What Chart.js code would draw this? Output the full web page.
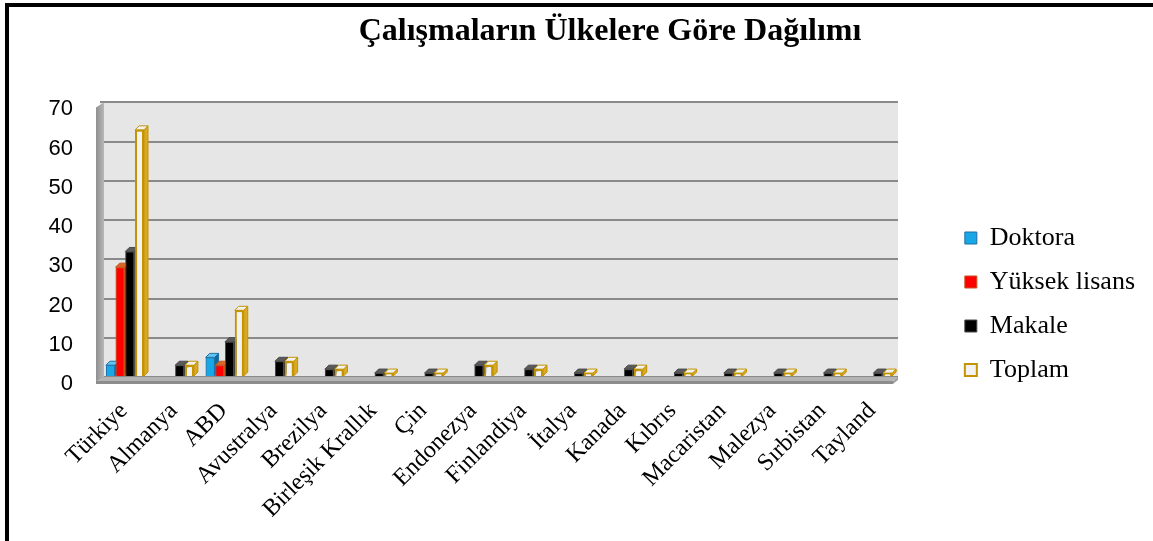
<!DOCTYPE html>
<html>
<head>
<meta charset="utf-8">
<script src="https://cdn.jsdelivr.net/npm/chart.js@4.4.1/dist/chart.umd.min.js"></script>
<style>
html,body{margin:0;padding:0;background:#fff;}
canvas{display:block;}
</style>
</head>
<body>
<canvas id="c" width="1153" height="541"></canvas>
<script>
const chartTitle = 'Çalışmaların Ülkelere Göre Dağılımı';
const categories = ['Türkiye','Almanya','ABD','Avustralya','Brezilya','Birleşik Krallık','Çin','Endonezya','Finlandiya','İtalya','Kanada','Kıbrıs','Macaristan','Malezya','Sırbistan','Tayland'];
const seriesNames = ['Doktora','Yüksek lisans','Makale','Toplam'];
const doktora =      [3, 0, 5, 0, 0, 0, 0, 0, 0, 0, 0, 0, 0, 0, 0, 0];
const yuksekLisans = [28, 0, 3, 0, 0, 0, 0, 0, 0, 0, 0, 0, 0, 0, 0, 0];
const makale =       [32, 3, 9, 4, 2, 1, 1, 3, 2, 1, 2, 1, 1, 1, 1, 1];
const toplam =       [63, 3, 17, 4, 2, 1, 1, 3, 2, 1, 2, 1, 1, 1, 1, 1];
const yTickValues =  [0, 10, 20, 30, 40, 50, 60, 70];

const styles = [
  {bg:'#17a6e6', border:'#1f6fa6', top:'#62c4f0', side:'#0d6a9c'},
  {bg:'#ff0000', border:'#c4561e', top:'#d9662a', side:'#a82400'},
  {bg:'#000000', border:'#4a4a4a', top:'#5a5a5a', side:'#262626'},
  {bg:'#f2f2f2', border:'#c39400', top:'#f2f2f2', side:'#d9a826'}
];
const seriesData = [doktora, yuksekLisans, makale, toplam];
const DX = 4, DY = 4;
const PAD_L = 40, PAD_R = 8, PLOT_L = 100, PLOT_R = 898, PLOT_B = 377, TITLE_CX = 610;

const scene3d = {
  id: 'scene3d',
  afterLayout(chart) {
    const t = chart.titleBlock;
    if (t) {
      const shift = TITLE_CX - (t.left + t.right) / 2;
      t.left += shift; t.right += shift;
    }
  },
  beforeDraw(chart) {
    const {ctx, chartArea: a} = chart;
    ctx.save();
    ctx.fillStyle = '#ffffff';
    ctx.fillRect(0, 0, chart.width, chart.height);
    ctx.fillStyle = '#e6e6e6';
    ctx.fillRect(a.left, a.top, a.right - a.left, a.bottom - a.top);
    ctx.fillStyle = '#000';
    ctx.fillRect(5, 3, chart.width - 5, 4);
    ctx.fillRect(5, 3, 4, chart.height - 3);
    ctx.restore();
  },
  beforeDatasetsDraw(chart) {
    const {ctx, chartArea: a} = chart;
    ctx.save();
    const g = ctx.createLinearGradient(a.left - 4, 0, a.left + 5, 0);
    g.addColorStop(0, '#8f8f8f');
    g.addColorStop(1, '#bdbdbd');
    ctx.fillStyle = g;
    ctx.beginPath();
    ctx.moveTo(a.left - 4, a.top + 5);
    ctx.lineTo(a.left + 4, a.top);
    ctx.lineTo(a.left + 4, a.bottom);
    ctx.lineTo(a.left - 4, a.bottom + 5);
    ctx.closePath();
    ctx.fill();
    ctx.fillStyle = '#b4b4b4';
    ctx.beginPath();
    ctx.moveTo(a.left + 4, a.bottom);
    ctx.lineTo(a.right, a.bottom);
    ctx.lineTo(a.right - 5, a.bottom + 4);
    ctx.lineTo(a.left - 4, a.bottom + 4);
    ctx.closePath();
    ctx.fill();
    ctx.fillStyle = '#8c8c8c';
    ctx.beginPath();
    ctx.moveTo(a.left - 4, a.bottom + 4);
    ctx.lineTo(a.right - 5, a.bottom + 4);
    ctx.lineTo(a.right - 5, a.bottom + 7);
    ctx.lineTo(a.left - 4, a.bottom + 7);
    ctx.closePath();
    ctx.fill();
    ctx.fillStyle = '#a0a0a0';
    ctx.beginPath();
    ctx.moveTo(a.right - 5, a.bottom + 4);
    ctx.lineTo(a.right, a.bottom);
    ctx.lineTo(a.right, a.bottom + 3);
    ctx.lineTo(a.right - 5, a.bottom + 7);
    ctx.closePath();
    ctx.fill();
    ctx.restore();
  },
  afterDatasetsDraw(chart) {
    const ctx = chart.ctx;
    for (let d = 0; d < chart.data.datasets.length; d++) {
      const meta = chart.getDatasetMeta(d);
      const st = styles[d];
      meta.data.forEach((el, i) => {
        if (!chart.data.datasets[d].data[i]) return;
        const {x, y, base, width} = el.getProps(['x', 'y', 'base', 'width'], true);
        const l = x - width / 2, r = x + width / 2;
        ctx.save();
        ctx.lineWidth = 1;
        ctx.strokeStyle = st.border;
        ctx.fillStyle = st.side;
        ctx.beginPath();
        ctx.moveTo(r, y);
        ctx.lineTo(r + DX, y - DY);
        ctx.lineTo(r + DX, base - DY);
        ctx.lineTo(r, base);
        ctx.closePath();
        ctx.fill();
        ctx.stroke();
        ctx.fillStyle = st.top;
        ctx.beginPath();
        ctx.moveTo(l, y);
        ctx.lineTo(l + DX, y - DY);
        ctx.lineTo(r + DX, y - DY);
        ctx.lineTo(r, y);
        ctx.closePath();
        ctx.fill();
        ctx.stroke();
        ctx.restore();
        el.draw(ctx);
      });
    }
  }
};

const datasets = seriesNames.map((name, k) => ({
  label: name,
  data: seriesData[k],
  backgroundColor: styles[k].bg,
  borderColor: styles[k].border,
  borderWidth: k === 3 ? 2 : 1,
  categoryPercentage: 0.78,
  barPercentage: 0.92
}));

new Chart(document.getElementById('c'), {
  type: 'bar',
  data: { labels: categories, datasets: datasets },
  plugins: [scene3d],
  options: {
    responsive: false,
    animation: false,
    layout: { padding: { left: PAD_L, right: PAD_R, top: 0, bottom: 0 } },
    plugins: {
      tooltip: { enabled: false },
      title: {
        display: true,
        text: chartTitle,
        color: '#000',
        font: { family: 'Liberation Serif', size: 32, weight: 'bold' },
        padding: { top: 13, bottom: 51 }
      },
      legend: {
        position: 'right',
        align: 'center',
        maxWidth: 320,
        title: {
          display: true,
          text: ' ',
          font: { family: 'Liberation Serif', size: 10 },
          padding: { top: 0, bottom: 55 }
        },
        labels: {
          color: '#000',
          font: { family: 'Liberation Serif', size: 26 },
          boxWidth: 12,
          boxHeight: 12,
          padding: 18
        }
      }
    },
    scales: {
      x: {
        grid: { display: false, drawTicks: false },
        border: { display: false },
        ticks: {
          color: '#000',
          font: { family: 'Liberation Serif', size: 24 },
          minRotation: 45,
          maxRotation: 45,
          autoSkip: false,
          padding: 20,
          labelOffset: -1
        },
        afterFit(s) { s.height = s.chart.height - PLOT_B; }
      },
      y: {
        min: 0,
        max: 70,
        afterBuildTicks(s) { s.ticks = yTickValues.map(v => ({ value: v })); },
        grid: { color: '#8a8a8a', lineWidth: 2, drawTicks: false },
        border: { display: false },
        ticks: {
          color: '#000',
          font: { family: 'Liberation Sans', size: 22 },
          padding: 27,
          labelOffset: 7
        },
        afterFit(s) { s.width = PLOT_L - PAD_L; }
      },
      spacer: {
        type: 'linear',
        position: 'right',
        display: true,
        grid: { display: false, drawTicks: false },
        border: { display: false },
        ticks: { display: false },
        afterFit(s) {
          const ch = s.chart;
          const legW = ch.legend ? ch.legend.width : 200;
          s.width = Math.max(0, ch.width - PAD_R - legW - PLOT_R);
        }
      }
    }
  }
});
</script>
</body>
</html>
